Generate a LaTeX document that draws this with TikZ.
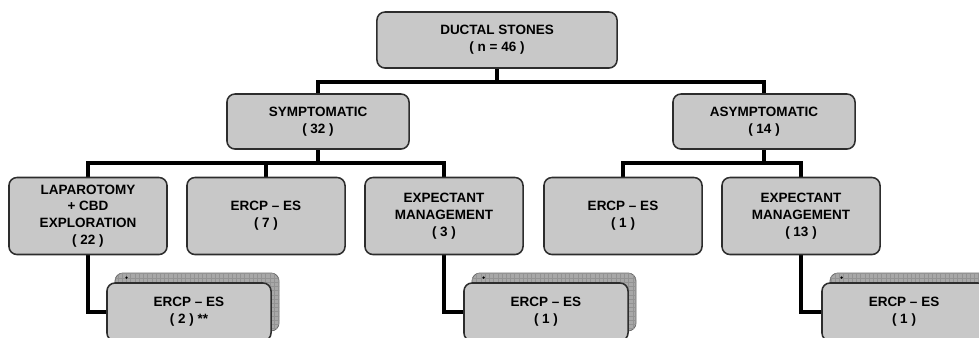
\documentclass[tikz,border=0pt]{standalone}
\usepackage{fontspec}
\setmainfont{Liberation Sans}
\usetikzlibrary{patterns}
\pgfdeclarelayer{bg}
\pgfsetlayers{bg,main}
\definecolor{boxgray}{RGB}{200,200,200}
\definecolor{edgegray}{RGB}{45,45,45}
\tikzset{
    every node/.style={rectangle, rounded corners=0.2cm, draw=edgegray, line width=1.1pt, fill=boxgray, align=center, inner sep=0mm, font=\fontsize{9.6}{12}\selectfont\bfseries}
}
\tikzset{link/.style={line width=2.2pt, black}}
\tikzset{rootbox/.style={minimum width=6cm, minimum height=1.4cm}}
\tikzset{groupbox/.style={minimum width=4.55cm, minimum height=1.375cm}}
\tikzset{treatbox/.style={minimum width=3.95cm, minimum height=1.925cm}}
\tikzset{laterbox/.style={minimum width=4.1cm, minimum height=1.45cm}}
\tikzset{stackbox/.style={laterbox, fill=gray!68, draw=gray!85!black, line width=0.6pt, postaction={pattern=grid, pattern color=gray!85}}}

\begin{document}
\begin{tikzpicture}[x=0.025cm, y=-0.025cm]
        \useasboundingbox (0,0) rectangle (979,337);
        \clip (0,0) rectangle (979,337);
        \node (root) [rootbox] at (497, 40) {DUCTAL STONES\\( n = 46 )};
        \node (sym) [groupbox] at (318, 121.5) {SYMPTOMATIC\\( 32 )};
        \node (asym) [groupbox] at (764, 121.5) {ASYMPTOMATIC\\( 14 )};
        \node (lap) [treatbox] at (88, 216) {LAPAROTOMY\\+ CBD\\EXPLORATION\\( 22 )};
        \node (ercpa) [treatbox] at (266, 216) {ERCP -- ES\\( 7 )};
        \node (expa) [treatbox] at (444, 216) {EXPECTANT\\MANAGEMENT\\( 3 )};
        \node (ercpb) [treatbox] at (623, 216) {ERCP -- ES\\( 1 )};
        \node (expb) [treatbox] at (801, 216) {EXPECTANT\\MANAGEMENT\\( 13 )};
        \node (s1) [stackbox] at (197, 302) {};
        \node (s2) [stackbox] at (554, 302) {};
        \node (s3) [stackbox] at (912, 302) {};
        \fill (s1.north west) ++(12,5) circle (0.9pt);
        \fill (s2.north west) ++(12,5) circle (0.9pt);
        \fill (s3.north west) ++(12,5) circle (0.9pt);
        \node (lata) [laterbox] at (189, 312) {ERCP -- ES\\( 2 ) **};
        \node (latb) [laterbox] at (546, 312) {ERCP -- ES\\( 1 )};
        \node (latc) [laterbox] at (904, 312) {ERCP -- ES\\( 1 )};
        \coordinate (j0) at (497, 82);
        \coordinate (j1) at (318, 163);
        \coordinate (j2) at (764, 163);
        \begin{pgfonlayer}{bg}
                \draw [link] (root.south) -- (j0);
                \draw [link] (sym.north) |- (j0) -| (asym.north);
                \draw [link] (sym.south) -- (j1);
                \draw [link] (lap.north) |- (j1) -| (expa.north);
                \draw [link] (ercpa.north) -- (ercpa.north |- j1);
                \draw [link] (asym.south) -- (j2);
                \draw [link] (ercpb.north) |- (j2) -| (expb.north);
                \draw [link] (lap.south) |- (lata.west);
                \draw [link] (expa.south) |- (latb.west);
                \draw [link] (expb.south) |- (latc.west);
        \end{pgfonlayer}
\end{tikzpicture}
\end{document}
